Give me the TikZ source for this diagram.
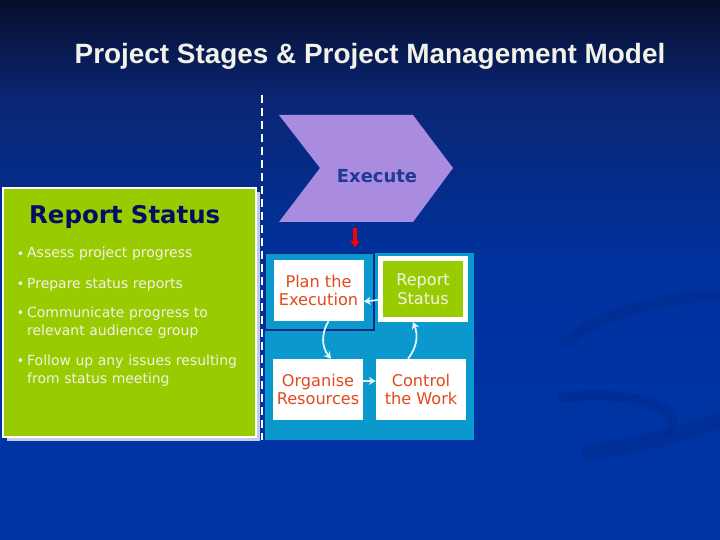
\documentclass[tikz,border=0pt]{standalone}
\usepackage{fontspec}
\setmainfont{DejaVu Sans}
\newfontfamily\titlefont{Liberation Sans}
\usetikzlibrary{arrows.meta}
\definecolor{bgtop}{HTML}{070D2C}
\definecolor{bgupper}{HTML}{0A2673}
\definecolor{bgmid}{HTML}{0032A0}
\definecolor{bgbot}{HTML}{0035A6}
\definecolor{swirlblue}{HTML}{002A8C}
\definecolor{boxgreen}{HTML}{99CC00}
\definecolor{execpurple}{HTML}{A98CE0}
\definecolor{execblue}{HTML}{1E3A96}
\definecolor{headnavy}{HTML}{000F66}
\definecolor{offwhite}{HTML}{F2F2E8}
\definecolor{taskred}{HTML}{E04A1E}
\definecolor{panelblue}{HTML}{0B98CC}
\definecolor{edgenavy}{HTML}{0A2A8A}
\definecolor{shadowgrey}{HTML}{C6CCEA}
\definecolor{flowwhite}{HTML}{E4F2FF}
\pgfdeclareverticalshading{slidebg}{100bp}{color(0bp)=(bgbot); color(25bp)=(bgbot); color(50bp)=(bgmid); color(66bp)=(bgupper); color(75bp)=(bgtop); color(100bp)=(bgtop)}
\newcommand{\dotitem}{\llap{\raisebox{-0.5bp}{\fontsize{13}{13}\selectfont\textbullet}\hspace{3bp}}}
\begin{document}
\begin{tikzpicture}[x=1bp, y=-1bp, >=Stealth,
    title/.style={font=\titlefont\bfseries\fontsize{28}{32}\selectfont, text=offwhite, anchor=base},
    headtxt/.style={font=\bfseries\fontsize{24.5}{28}\selectfont, text=headnavy, anchor=base west, inner sep=0},
    bullettxt/.style={font=\fontsize{14}{19}\selectfont, text=offwhite, anchor=base west, inner sep=0, text width=228bp, align=left},
    taskbox/.style={fill=white, minimum width=90bp, minimum height=61bp, inner sep=0, align=center, text=taskred, font=\fontsize{16.2}{19}\selectfont},
    flow/.style={flowwhite, line width=1.8bp, -{Stealth[length=7bp,width=8bp]}},
    swirl/.style={swirlblue, opacity=0.45, line cap=round}]
    \useasboundingbox (0,0) rectangle (720,540);
    \shade[shading=slidebg] (0,0) rectangle (720,540);
    % background swirls
    \draw[swirl, line width=12bp] (566,342) .. controls (610,308) and (670,298) .. (720,295);
    \draw[swirl, line width=10bp] (562,398) .. controls (630,388) and (690,410) .. (668,432);
    \draw[swirl, line width=16bp] (590,452) .. controls (640,446) and (690,432) .. (720,420);

    \node[title] (title) at (370,64) {Project Stages \& Project Management Model};

    \coordinate (dashtop) at (262,95);
    \coordinate (dashbot) at (262,440);
    \draw[white, line width=2.5bp, dash pattern=on 8bp off 5bp] (dashtop) -- (dashbot);

    % stage chevron
    \fill[execpurple] (279,115) -- (413,115) -- (453,168) -- (413,222) -- (279,222) -- (320,168) -- cycle;
    \node[font=\bfseries\fontsize{18}{20}\selectfont, text=execblue, anchor=base] (exec) at (377,183) {Execute};
    \coordinate (execbot) at (355,228);
    \coordinate (panelin) at (355,247);
    \draw[red, line width=3.5bp, -{Triangle[length=6bp,width=9bp]}] (execbot) -- (panelin);

    % green card
    \fill[shadowgrey] (7,192) rectangle (260,441);
    \draw[white, line width=2bp, fill=boxgreen] (3,188) rectangle (256,437);
    \node[headtxt] (head) at (29,224) {Report Status};
    \node[bullettxt] (b1) at (27,258) {\dotitem Assess project progress};
    \node[bullettxt] (b2) at (27,288) {\dotitem Prepare status reports};
    \node[bullettxt] (b3) at (27,317) {\dotitem Communicate progress to\\relevant audience group};
    \node[bullettxt] (b4) at (27,365) {\dotitem Follow up any issues resulting\\from status meeting};

    % management cycle
    \fill[panelblue] (265,253) rectangle (474,440);
    \draw[edgenavy, line width=1.5bp] (265,253) rectangle (374,330);
    \node[taskbox] (plan) at (318.5,290.5) {Plan the\\Execution};
    \node[taskbox, fill=boxgreen, draw=white, line width=5bp, minimum width=85bp, text=offwhite] (rep) at (423,289) {Report\\Status};
    \node[taskbox] (org) at (318,389.5) {Organise\\Resources};
    \node[taskbox] (ctl) at (421,389.5) {Control\\the Work};
    \draw[flow] ([yshift=-11bp]rep.west) -- ([yshift=-11bp]plan.east);
    \draw[flow] ([yshift=8.5bp]org.east) -- ([yshift=8.5bp]ctl.west);
    \draw[flow] ([xshift=10bp]plan.south) to[bend right=35] ([xshift=13bp]org.north);
    \draw[flow] ([xshift=-13bp]ctl.north) to[bend right=30] ([xshift=-10bp]rep.south);
\end{tikzpicture}
\end{document}
